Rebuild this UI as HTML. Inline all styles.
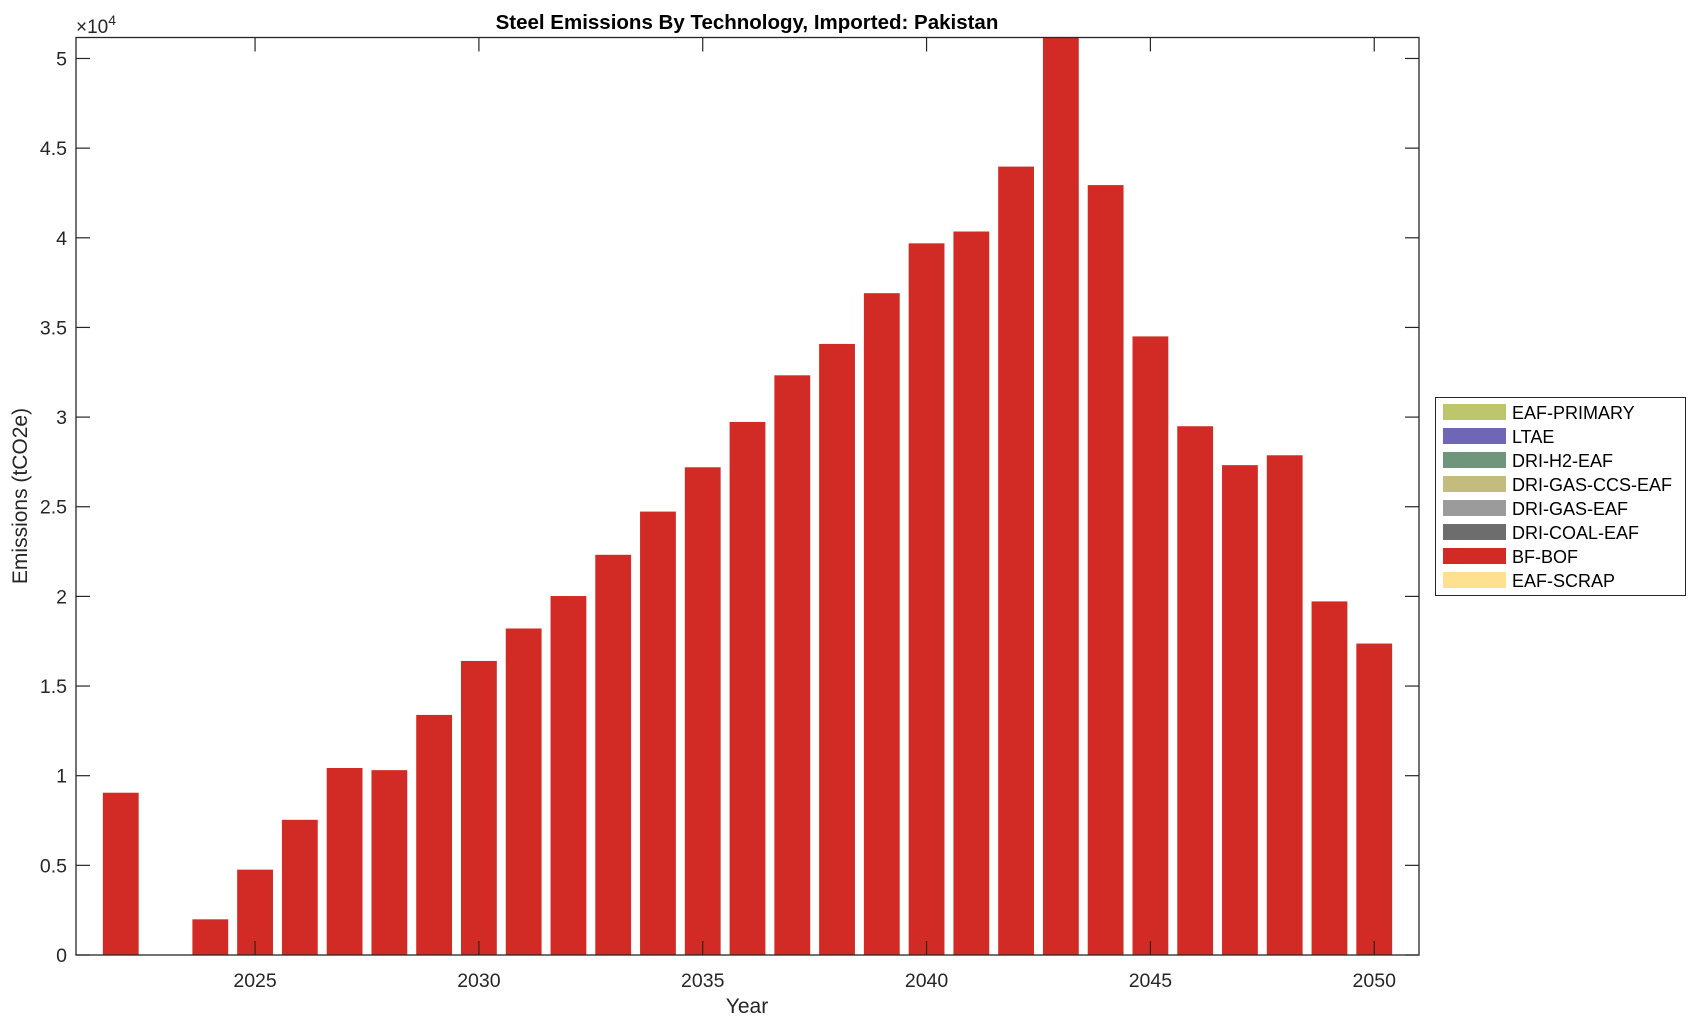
<!DOCTYPE html>
<html><head><meta charset="utf-8"><style>
body{margin:0;background:#fff;}
svg text{font-family:"Liberation Sans",Arial,sans-serif;fill:#262626;}
</style></head><body>
<svg id="chart" width="1696" height="1023" viewBox="0 0 1696 1023" xmlns="http://www.w3.org/2000/svg">
<rect width="1696" height="1023" fill="#fff"/>
<text x="747" y="29" text-anchor="middle" font-size="20.5" font-weight="bold" style="fill:#000">Steel Emissions By Technology, Imported: Pakistan</text>
<g id="bars"></g>
<g id="axes"></g>
<text x="747" y="1013" text-anchor="middle" font-size="21">Year</text>
<text transform="translate(27,496) rotate(-90)" text-anchor="middle" font-size="21">Emissions (tCO2e)</text>
<text x="76" y="33" font-size="19">×10<tspan font-size="14" dy="-8">4</tspan></text>
<g id="legend"></g>
</svg>
<script>
const years=[2022,2023,2024,2025,2026,2027,2028,2029,2030,2031,2032,2033,2034,2035,2036,2037,2038,2039,2040,2041,2042,2043,2044,2045,2046,2047,2048,2049,2050];
const bfBof=[9050,0,1990,4760,7540,10430,10310,13390,16400,18210,20020,22320,24730,27200,29730,32330,34080,36910,39690,40350,43970,55000,42940,34500,29490,27320,27870,19720,17370];
const xTicks=[2025,2030,2035,2040,2045,2050];
const yTicks=[0,5000,10000,15000,20000,25000,30000,35000,40000,45000,50000];
const yTickLabels=["0","0.5","1","1.5","2","2.5","3","3.5","4","4.5","5"];
const legendNames=["EAF-PRIMARY","LTAE","DRI-H2-EAF","DRI-GAS-CCS-EAF","DRI-GAS-EAF","DRI-COAL-EAF","BF-BOF","EAF-SCRAP"];
const legendColors=["#bdc66b","#7066b8","#6f957b","#c4bb7f","#9b9b9b","#6d6d6d","#d22b25","#fee190"];
const NS="http://www.w3.org/2000/svg";
const L=76,R=1419,T=37.5,B=955,X0=2021,X1=2051,Y1=51170;
const xs=v=>L+(v-X0)/(X1-X0)*(R-L);
const ys=v=>B-v/Y1*(B-T);
function mk(t,a){const e=document.createElementNS(NS,t);for(const k in a)e.setAttribute(k,a[k]);return e;}
const bars=document.getElementById('bars');
years.forEach((y,i)=>{
  const v=Math.min(bfBof[i],Y1);
  if(bfBof[i]<=0)return;
  const w=0.8*(xs(1)-xs(0));
  const r=mk('rect',{x:xs(y)-w/2,y:ys(v),width:w,height:B-ys(v),fill:'#d22b25'});
  
  
  bars.appendChild(r);
});
const ax=document.getElementById('axes');
const box=mk('rect',{x:L,y:T,width:R-L,height:B-T,fill:'none',stroke:'#262626','stroke-width':1.3});


ax.appendChild(box);
xTicks.forEach(t=>{
  const x=xs(t);
  ax.appendChild(mk('line',{x1:x,x2:x,y1:B,y2:B-14,stroke:'#262626','stroke-width':1.2}));
  ax.appendChild(mk('line',{x1:x,x2:x,y1:T,y2:T+14,stroke:'#262626','stroke-width':1.2}));
  const tx=mk('text',{x:x,y:B+32,'text-anchor':'middle','font-size':19.5});
  tx.textContent=t;
  
  
  ax.appendChild(tx);
});
yTicks.forEach((t,i)=>{
  const y=ys(t);
  ax.appendChild(mk('line',{x1:L,x2:L+14,y1:y,y2:y,stroke:'#262626','stroke-width':1.2}));
  ax.appendChild(mk('line',{x1:R,x2:R-14,y1:y,y2:y,stroke:'#262626','stroke-width':1.2}));
  const tx=mk('text',{x:L-9,y:y+7,'text-anchor':'end','font-size':19.5});
  tx.textContent=yTickLabels[i];
  
  
  ax.appendChild(tx);
});
const lg=document.getElementById('legend');
lg.appendChild(mk('rect',{x:1435.5,y:397.5,width:250,height:198,fill:'#fff',stroke:'#262626','stroke-width':1}));
legendNames.forEach((n,i)=>{
  const y=404+i*24;
  const sw=mk('rect',{x:1443,y:y,width:63,height:16,fill:legendColors[i]});
  
  
  lg.appendChild(sw);
  const tx=mk('text',{x:1512,y:y+15,'font-size':18,style:'fill:#000'});
  tx.textContent=n;
  
  
  lg.appendChild(tx);
});
</script>
</body></html>
